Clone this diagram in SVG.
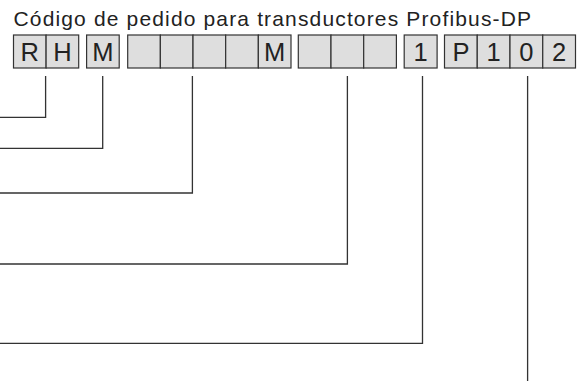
<svg xmlns="http://www.w3.org/2000/svg" width="585" height="383" viewBox="0 0 585 383">
<style>
.cell{fill:#dedede;stroke:#333;stroke-width:1.2}
.ch{font-family:"Liberation Sans",Arial,sans-serif;font-size:25.5px;fill:#222;text-anchor:middle}
.title{font-family:"Liberation Sans",Arial,sans-serif;font-size:21px;fill:#222;letter-spacing:1.15px}
.conn{fill:none;stroke:#333;stroke-width:1.3}
</style>
<rect width="585" height="383" fill="#fff"/>
<text class="title" x="13.5" y="25.5">Código de pedido para transductores Profibus-DP</text>
<g id="node-RH">
<rect class="cell" x="13.5" y="35" width="32.6" height="33"/>
<rect class="cell" x="46.1" y="35" width="32.6" height="33"/>
<text class="ch" x="29.8" y="61">R</text>
<text class="ch" x="62.4" y="61">H</text>
</g>
<g id="node-M">
<rect class="cell" x="86.6" y="35" width="32.6" height="33"/>
<text class="ch" x="102.9" y="61">M</text>
</g>
<g id="node-group2">
<rect class="cell" x="127.7" y="35" width="32.66" height="33"/>
<rect class="cell" x="160.36" y="35" width="32.66" height="33"/>
<rect class="cell" x="193.02" y="35" width="32.66" height="33"/>
<rect class="cell" x="225.68" y="35" width="32.66" height="33"/>
<rect class="cell" x="258.34" y="35" width="32.66" height="33"/>
<text class="ch" x="274.7" y="61">M</text>
</g>
<g id="node-group3">
<rect class="cell" x="298.3" y="35" width="32.7" height="33"/>
<rect class="cell" x="331" y="35" width="32.7" height="33"/>
<rect class="cell" x="363.7" y="35" width="32.7" height="33"/>
</g>
<g id="node-1">
<rect class="cell" x="404.2" y="35" width="32.9" height="33"/>
<text class="ch" x="420.6" y="61">1</text>
</g>
<g id="node-P102">
<rect class="cell" x="444.5" y="35" width="32.75" height="33"/>
<rect class="cell" x="477.25" y="35" width="32.75" height="33"/>
<rect class="cell" x="510" y="35" width="32.75" height="33"/>
<rect class="cell" x="542.75" y="35" width="32.75" height="33"/>
<text class="ch" x="460.9" y="61">P</text>
<text class="ch" x="493.6" y="61">1</text>
<text class="ch" x="526.4" y="61">0</text>
<text class="ch" x="559.1" y="61">2</text>
</g>
<g id="connectors">
<polyline class="conn" points="45.6,76 45.6,117.3 0,117.3"/>
<polyline class="conn" points="102.7,76 102.7,148.3 0,148.3"/>
<polyline class="conn" points="192.4,76 192.4,193 0,193"/>
<polyline class="conn" points="347.4,76 347.4,264 0,264"/>
<polyline class="conn" points="422.5,76 422.5,343.3 0,343.3"/>
<polyline class="conn" points="527.6,76 527.6,381"/>
</g>
</svg>
